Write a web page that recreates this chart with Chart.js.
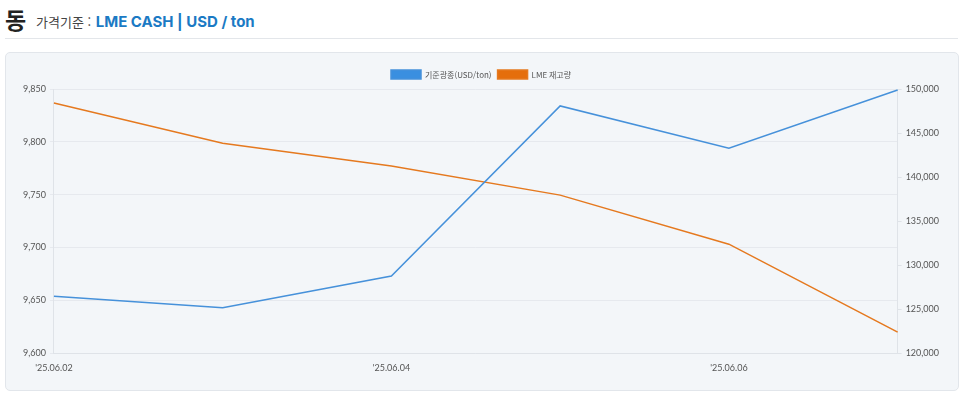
<!DOCTYPE html>
<html lang="ko">
<head>
<meta charset="utf-8">
<script src="https://cdn.jsdelivr.net/npm/chart.js@4"></script>
<style>
  html, body { margin: 0; padding: 0; background: #fff; width: 960px; height: 393px; overflow: hidden; }
  body { font-family: "Noto Sans CJK KR", "Noto Sans", sans-serif; }
  .head { position: absolute; left: 5px; top: 4px; width: 953px; height: 34px; border-bottom: 1px solid #e3e6ea; }
  .head .big { position: absolute; left: 0; top: 0; font-size: 23px; font-weight: 700; color: #222; line-height: 30px; }
  .head .sub { position: absolute; left: 31px; top: 8px; font-size: 13px; color: #444; line-height: 20px; }
  .head .sub b { color: #1b7ac4; font-family: Inter, "Noto Sans", sans-serif; font-size: 15px; font-weight: 700; margin-left: 1px; }
  .card { position: absolute; left: 5px; top: 52px; width: 952px; height: 337px; background: #f3f6f9; border: 1px solid #e2e6eb; border-radius: 5px; }
  .card canvas { position: absolute; left: 0; top: 0; }
</style>
</head>
<body>
<div class="head">
  <div class="big">동</div>
  <div class="sub">가격기준 : <b>LME CASH | USD / ton</b></div>
</div>
<div class="card"><canvas id="c" width="952" height="337"></canvas></div>
<script>
const labels = ["'25.06.02", "'25.06.03", "'25.06.04", "'25.06.05", "'25.06.06", "'25.06.07"];
const priceUsd = [9654, 9643, 9673, 9834, 9794, 9849];
const lmeStock = [148400, 143850, 141250, 137950, 132380, 122390];
const leftTicks = [9600, 9850, 50];
const rightTicks = [120000, 150000, 5000];

const tickFont = { family: "Lato, 'Noto Sans', sans-serif", size: 9 };

new Chart(document.getElementById("c"), {
  type: "line",
  data: {
    labels: labels,
    datasets: [{
      label: "기준광종(USD/ton)",
      data: priceUsd,
      yAxisID: "y",
      borderColor: "#4691da",
      backgroundColor: "#3a8fe0",
      borderWidth: 1.5,
      pointRadius: 0,
      tension: 0,
      fill: false
    }, {
      label: "LME 재고량",
      data: lmeStock,
      yAxisID: "y1",
      borderColor: "#e5791f",
      backgroundColor: "#e56e0c",
      borderWidth: 1.5,
      pointRadius: 0,
      tension: 0,
      fill: false
    }]
  },
  options: {
    responsive: false,
    animation: false,
    layout: { padding: { left: 13, right: 15, top: 11, bottom: 16 } },
    plugins: {
      legend: {
        position: "top",
        labels: {
          boxWidth: 30, boxHeight: 9,
          font: { family: "'Noto Sans CJK KR', sans-serif", size: 8 },
          color: "#555",
          padding: 6
        }
      },
      tooltip: { enabled: false }
    },
    scales: {
      x: {
        grid: { display: false, drawTicks: true },
        border: { color: "#dfe3e8" },
        ticks: { maxRotation: 0, autoSkip: true, maxTicksLimit: 3, font: tickFont, color: "#555", padding: 1, align: "center" }
      },
      y: {
        position: "left",
        min: leftTicks[0], max: leftTicks[1],
        ticks: { stepSize: leftTicks[2], font: tickFont, color: "#555", padding: 4,
          callback: v => v.toLocaleString("en-US") },
        grid: { color: "#e6e9ee", drawTicks: true, tickLength: 4 },
        border: { color: "#dfe3e8" }
      },
      y1: {
        position: "right",
        min: rightTicks[0], max: rightTicks[1],
        ticks: { stepSize: rightTicks[2], font: tickFont, color: "#555", padding: 4,
          callback: v => v.toLocaleString("en-US") },
        grid: { drawOnChartArea: false, color: "#dfe3e8", tickLength: 4 },
        border: { color: "#dfe3e8" }
      }
    }
  }
});
</script>
</body>
</html>
